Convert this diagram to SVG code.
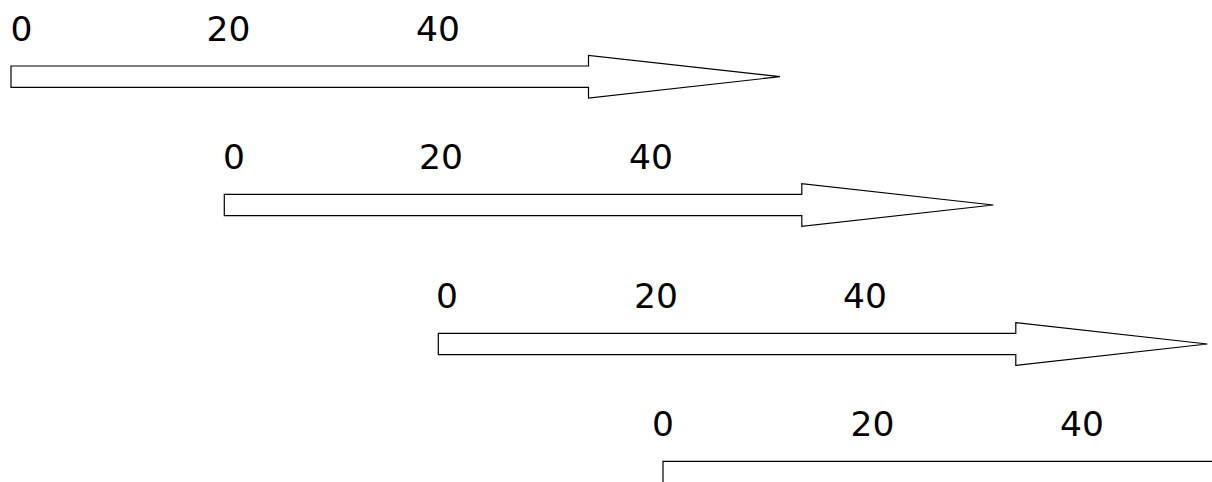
<svg xmlns="http://www.w3.org/2000/svg" xmlns:xlink="http://www.w3.org/1999/xlink" width="1212" height="482" viewBox="0 0 1212 482">
<style>
.lbl{font-family:"DejaVu Sans",Verdana,sans-serif;font-size:34.5px;fill:#000}
.arw{fill:#fff;stroke:#000;stroke-width:1.2}
</style>
<defs>
<path id="arrow" d="M0,0 H577.5 V-10.7 L769,10.7 L577.5,32 V21.3 H0 Z"/>
</defs>
<rect width="1212" height="482" fill="#fff"/>
<g id="connectors">
<use id="arrow1" xlink:href="#arrow" href="#arrow" class="arw" transform="translate(11,66)"/>
<use id="arrow2" xlink:href="#arrow" href="#arrow" class="arw" transform="translate(224.3,194.3)"/>
<use id="arrow3" xlink:href="#arrow" href="#arrow" class="arw" transform="translate(438.3,333.3)"/>
<use id="arrow4" xlink:href="#arrow" href="#arrow" class="arw" transform="translate(663,461.3)"/>
</g>
<g id="scale1">
<text class="lbl" x="10.5" y="41">0</text>
<text class="lbl" x="206.5" y="41">20</text>
<text class="lbl" x="416" y="41">40</text>
</g>
<g id="scale2">
<text class="lbl" x="223" y="169">0</text>
<text class="lbl" x="419" y="169">20</text>
<text class="lbl" x="629" y="169">40</text>
</g>
<g id="scale3">
<text class="lbl" x="436" y="308">0</text>
<text class="lbl" x="634" y="308">20</text>
<text class="lbl" x="843" y="308">40</text>
</g>
<g id="scale4">
<text class="lbl" x="652" y="436">0</text>
<text class="lbl" x="850.5" y="436">20</text>
<text class="lbl" x="1060" y="436">40</text>
</g>
</svg>
